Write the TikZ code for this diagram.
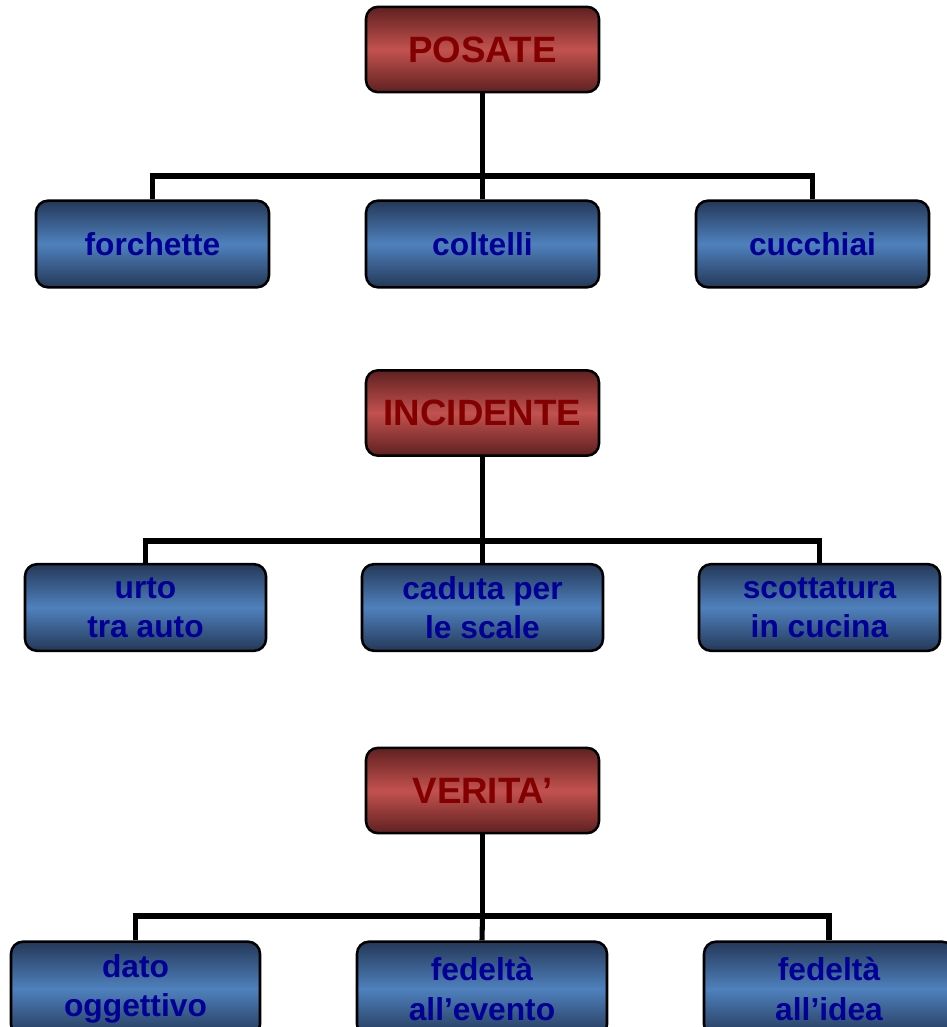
\documentclass[tikz,border=0pt]{standalone}
\usepackage{fontspec}
\setmainfont{Liberation Sans}
\usetikzlibrary{calc}

\definecolor{redmid}{RGB}{194,82,79}
\definecolor{rededge}{RGB}{95,32,32}
\definecolor{redtext}{RGB}{130,0,0}
\definecolor{bluemid}{RGB}{79,129,189}
\definecolor{blueedge}{RGB}{36,56,88}
\definecolor{bluetext}{RGB}{0,0,150}

\tikzset{
    headbox/.style={draw=black, line width=1.9pt, rounded corners=9pt,
        top color=rededge, bottom color=rededge, middle color=redmid,
        text=redtext, font=\bfseries\fontsize{27.5}{30}\selectfont,
        minimum width=174.75pt, minimum height=64pt, inner sep=0pt},
    itembox/.style={draw=black, line width=1.9pt, rounded corners=9pt,
        top color=blueedge, bottom color=blueedge, middle color=bluemid,
        text=bluetext, font=\bfseries\fontsize{23.8}{29.3}\selectfont,
        align=center, minimum height=65pt, inner sep=0pt},
    link/.style={line width=3.8pt, line join=miter}
}

\begin{document}
\begin{tikzpicture}[x=0.75pt, y=-0.75pt]

\useasboundingbox (0,0) rectangle (946,1027);

% Group 1
\node[headbox] (posate) at (482.5,49.5) {POSATE};
\node[itembox, minimum width=174.75pt] (forchette) at (152.5,244) {forchette};
\node[itembox, minimum width=174.75pt] (coltelli) at (482.5,244) {coltelli};
\node[itembox, minimum width=174.75pt] (cucchiai) at (812.5,244) {cucchiai};

\coordinate (barA) at (482.5,176);
\draw[link] (posate.south) -- (barA);
\draw[link] (forchette.north) |- (barA) -| (cucchiai.north);
\draw[link] (coltelli.north) -- (barA);

% Group 2
\node[headbox] (incidente) at (482.5,413) {INCIDENTE};
\node[itembox, minimum width=180.75pt] (urto) at (145.5,607.5) {urto\\tra auto};
\node[itembox, minimum width=180.75pt] (caduta) at (482.5,607.5) {caduta per\\le scale};
\node[itembox, minimum width=180.75pt] (scottatura) at (819.5,607.5) {scottatura\\in cucina};

\coordinate (barB) at (482.5,541);
\draw[link] (incidente.south) -- (barB);
\draw[link] (urto.north) |- (barB) -| (scottatura.north);
\draw[link] (caduta.north) -- (barB);

% Group 3 (bottom row runs past the page edge)
\node[headbox] (verita) at (482.5,790.5) {VERITA’};
\node[itembox, minimum width=186.75pt, minimum height=71pt] (dato) at (135.5,989) {dato\\oggettivo};
\node[itembox, minimum width=187.5pt, minimum height=71pt] (evento) at (482,989) {fedeltà\\all’evento};
\node[itembox, minimum width=187.5pt, minimum height=71pt] (idea) at (829,989) {fedeltà\\all’idea};

\coordinate (barC) at (482.5,916);
\draw[link] (verita.south) -- (barC);
\draw[link] (dato.north) |- (barC) -| (idea.north);
\draw[link] (evento.north) -- (barC);

\end{tikzpicture}
\end{document}
